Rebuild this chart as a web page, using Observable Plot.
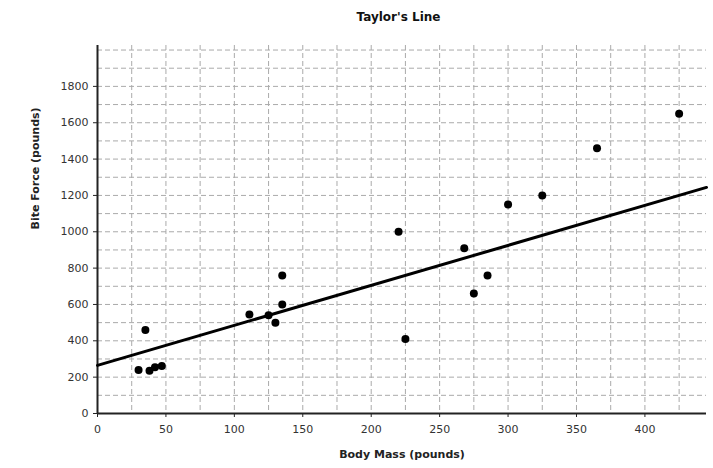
<!DOCTYPE html>
<html><head><meta charset="utf-8">
<script src="https://cdn.jsdelivr.net/npm/d3@7"></script>
<script src="https://cdn.jsdelivr.net/npm/@observablehq/plot@0.6"></script>
<style>
body{margin:0;background:#fff;font-family:"DejaVu Sans",sans-serif;}
#title{height:30px;line-height:34px;font-weight:bold;font-size:12px;text-align:center;padding-left:84px;color:#111;}
</style></head><body>
<div id="title">Taylor's Line</div>
<div id="chart"></div>
<script>
const bodyMass  = [30, 38, 42, 47, 35, 111, 125, 130, 135, 135, 220, 225, 268, 275, 285, 300, 325, 365, 425];
const biteForce = [240, 235, 255, 262, 460, 545, 540, 500, 760, 600, 1000, 410, 910, 660, 760, 1150, 1200, 1460, 1650];
const lineX = [0, 445];
const lineY = [265, 1244];
const xTicks = [0, 50, 100, 150, 200, 250, 300, 350, 400];
const yTicks = [0, 200, 400, 600, 800, 1000, 1200, 1400, 1600, 1800];
const xGrid = [25, 50, 75, 100, 125, 150, 175, 200, 225, 250, 275, 300, 325, 350, 375, 400, 425];
const yGrid = [100, 200, 300, 400, 500, 600, 700, 800, 900, 1000, 1100, 1200, 1300, 1400, 1500, 1600, 1700, 1800, 1900, 2000];
const xLabel = "Body Mass (pounds)";
const yLabel = "Bite Force (pounds)";

const points = bodyMass.map((m, i) => ({m, f: biteForce[i]}));
const fit = lineX.map((x, i) => ({x, y: lineY[i]}));

const plot = Plot.plot({
  width: 713, height: 438,
  marginTop: 15, marginBottom: 55, marginLeft: 97, marginRight: 7,
  style: {fontFamily: "DejaVu Sans", fontSize: "11px", color: "#222", background: "#fff"},
  x: {domain: [0, 445]},
  y: {domain: [0, 2025]},
  marks: [
    Plot.gridX(xGrid, {stroke: "#aaa", strokeOpacity: 1, strokeDasharray: "5,3"}),
    Plot.gridY(yGrid, {stroke: "#aaa", strokeOpacity: 1, strokeDasharray: "5,3"}),
    Plot.axisX(xTicks, {tickSize: 4, tickPadding: 8, label: null, stroke: "#222", fill: "#333", tickFormat: d3.format("d")}),
    Plot.axisY(yTicks, {tickSize: 4, tickPadding: 5, label: null, stroke: "#222", fill: "#333", tickFormat: d3.format("d")}),
    Plot.ruleX([0], {stroke: "#222", strokeWidth: 2}),
    Plot.ruleY([0], {stroke: "#222", strokeWidth: 2}),
    Plot.line(fit, {x: "x", y: "y", stroke: "#000", strokeWidth: 3}),
    Plot.dot(points, {x: "m", y: "f", r: 4, fill: "#000", stroke: "none"}),
    Plot.text([xLabel], {frameAnchor: "bottom", dy: 44, fontWeight: "bold", fontSize: 11, fill: "#222"}),
    Plot.text([yLabel], {frameAnchor: "left", dx: -62, rotate: -90, fontWeight: "bold", fontSize: 11, fill: "#222"})
  ]
});
document.getElementById("chart").appendChild(plot);
</script>
</body></html>
